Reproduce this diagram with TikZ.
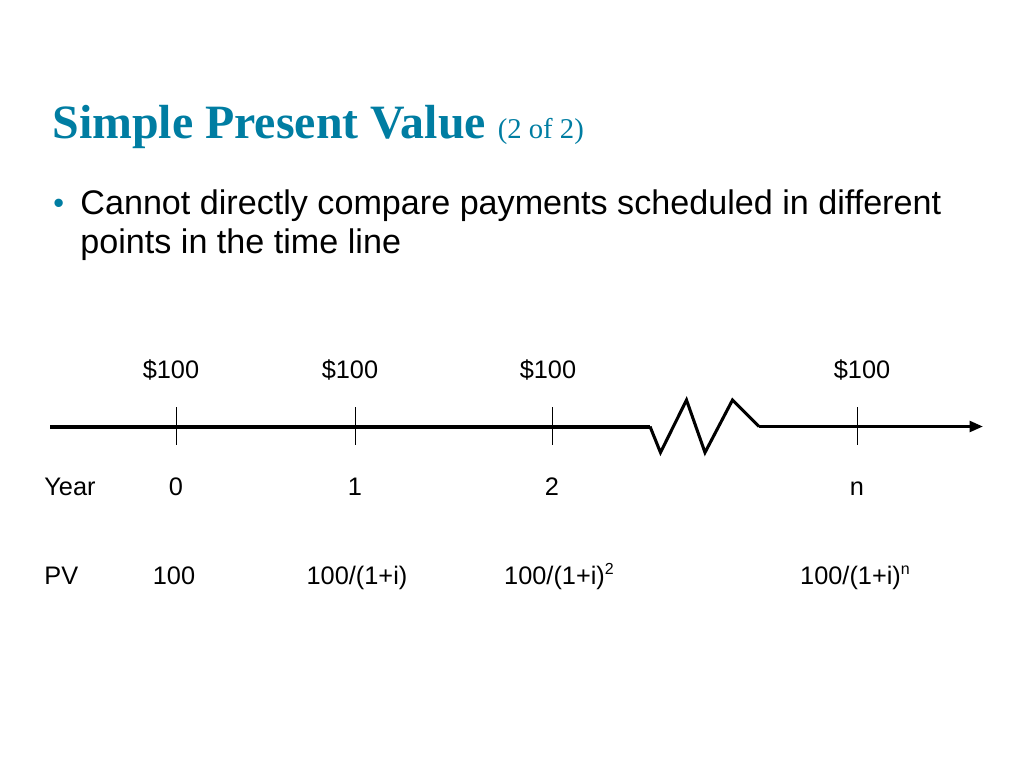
\documentclass[tikz,border=0pt]{standalone}
\usepackage{fontspec}
\setmainfont{Liberation Serif}
\setsansfont{Liberation Sans}
\usepackage{tikz}
\usetikzlibrary{arrows.meta}
\definecolor{title_teal}{RGB}{0,125,162}
\definecolor{line_black}{RGB}{0,0,0}

\begin{document}
\begin{tikzpicture}[x=0.75pt,y=-0.75pt,semithick]
    \tikzstyle{lbl}=[inner sep=0pt, anchor=base, font=\sffamily\fontsize{19}{22}\selectfont, text=black]
    \tikzstyle{row}=[style=lbl, anchor=base west]
    \tikzstyle{body}=[inner sep=0pt, anchor=base west, font=\sffamily\fontsize{25.6}{30}\selectfont]
    \tikzstyle{tick}=[draw=line_black, line width=0.75pt]
    \useasboundingbox (0,0) rectangle (1024,768);

    % heading and bullet
    \node[inner sep=0pt, anchor=base west, text=title_teal] (title) at (52,138)
      {\fontsize{35.9}{40}\selectfont\bfseries Simple Present Value \fontsize{21.5}{24}\mdseries\selectfont(2 of 2)};
    \node[body, text=title_teal, font=\sffamily\fontsize{23}{28}\selectfont] (dot) at (53,213) {\textbullet};
    \node[body] (line1) at (80,214) {Cannot directly compare payments scheduled in different};
    \node[body] (line2) at (80,253) {points in the time line};

    % time line with a break
    \coordinate (start) at (50,426.5);
    \coordinate (b0) at (650,426.5);
    \coordinate (b1) at (660.5,452.5);
    \coordinate (b2) at (686.5,400);
    \coordinate (b3) at (705,452.5);
    \coordinate (b4) at (732.5,400);
    \coordinate (b5) at (759,426.5);
    \coordinate (tip) at (983,426.5);
    \draw[line width=3pt] (start) -- (b0);
    \draw[line width=2.3pt, line join=miter] (b0) -- (b1) -- (b2) -- (b3) -- (b4) -- (b5);
    \draw[line width=2.3pt, -{Triangle[length=10pt,width=8pt]}] (b5) -- (tip);

    % ticks and labels
    \foreach \name/\x in {t0/176, t1/355, t2/552, tn/857}{
      \coordinate (\name top) at (\x,407);
      \coordinate (\name bot) at (\x,445);
      \draw[tick] (\name top) -- (\name bot);
    }
    \node[lbl] (pay0) at (171,378) {\$100};
    \node[lbl] (pay1) at (350,378) {\$100};
    \node[lbl] (pay2) at (548,378) {\$100};
    \node[lbl] (payn) at (862,378) {\$100};

    \node[row] (year) at (44,495) {Year};
    \node[lbl] (y0) at (176,495) {0};
    \node[lbl] (y1) at (355,495) {1};
    \node[lbl] (y2) at (552,495) {2};
    \node[lbl] (yn) at (857,495) {n};

    \node[row] (pv) at (44,584) {PV};
    \node[lbl] (pv0) at (174,584) {100};
    \node[lbl] (pv1) at (357,584) {100/(1+i)};
    \node[lbl] (pv2) at (559,584) {100/(1+i)\raisebox{0.38em}{\fontsize{12}{13}\selectfont 2}};
    \node[lbl] (pvn) at (855,584) {100/(1+i)\raisebox{0.38em}{\fontsize{12}{13}\selectfont n}};
\end{tikzpicture}
\end{document}
